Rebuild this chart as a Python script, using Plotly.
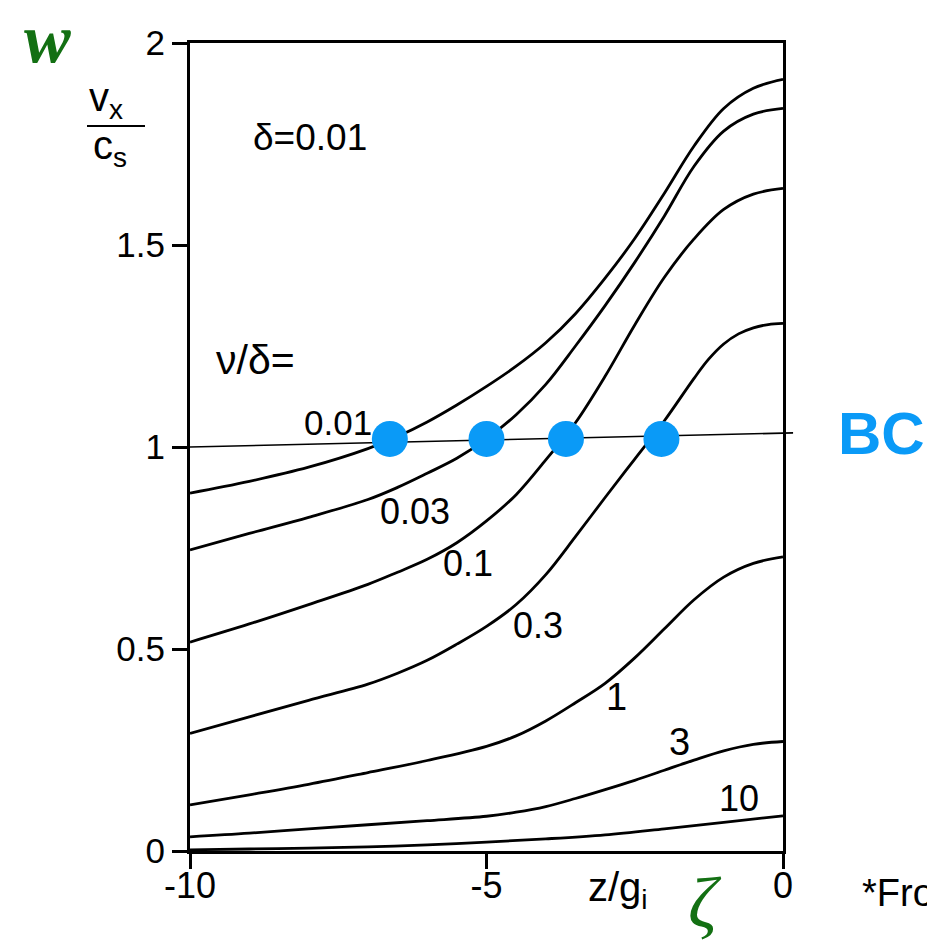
import plotly.graph_objects as go

# ---------------- data ----------------
z_grid_a = [-10, -9, -8, -7, -6.5, -6, -5.5, -5, -4.5, -4, -3.5, -3, -2.5, -2, -1.5, -1, -0.5, 0]

v_001 = [0.886, 0.915, 0.950, 0.996, 1.026, 1.062, 1.104, 1.150, 1.200, 1.258, 1.330, 1.418, 1.516, 1.628, 1.745, 1.838, 1.888, 1.910]
v_003 = [0.745, 0.786, 0.826, 0.870, 0.900, 0.935, 0.972, 1.020, 1.080, 1.155, 1.250, 1.350, 1.457, 1.572, 1.695, 1.782, 1.824, 1.838]
v_01 = [0.517, 0.562, 0.610, 0.660, 0.690, 0.722, 0.763, 0.817, 0.882, 0.968, 1.060, 1.175, 1.302, 1.420, 1.515, 1.588, 1.626, 1.640]

z_03 = [-10, -9, -8, -7, -6.5, -6, -5.5, -5, -4.5, -4, -3.5, -3, -2.5, -2, -1.5, -1.25, -1, -0.75, -0.5, -0.25, 0]
v_03 = [0.291, 0.332, 0.373, 0.413, 0.440, 0.472, 0.512, 0.556, 0.610, 0.684, 0.778, 0.875, 0.970, 1.065, 1.170, 1.218, 1.255, 1.280, 1.295, 1.303, 1.306]

z_1 = [-10, -9, -8, -7, -6, -5, -4.5, -4, -3.5, -3, -2.5, -2, -1.5, -1, -0.5, 0]
v_1 = [0.114, 0.139, 0.165, 0.194, 0.224, 0.259, 0.285, 0.322, 0.367, 0.415, 0.478, 0.550, 0.622, 0.678, 0.712, 0.728]

z_3 = [-10, -9, -8, -7, -6, -5, -4.5, -4, -3.5, -3, -2.5, -2, -1.5, -1, -0.5, 0]
v_3 = [0.035, 0.044, 0.055, 0.065, 0.075, 0.086, 0.096, 0.110, 0.130, 0.152, 0.175, 0.200, 0.225, 0.248, 0.264, 0.271]

z_10 = [-10, -9, -8, -7, -6, -5, -4, -3, -2, -1, 0]
v_10 = [0.003, 0.005, 0.007, 0.010, 0.015, 0.022, 0.030, 0.040, 0.055, 0.071, 0.087]

curves = [(z_grid_a, v_001), (z_grid_a, v_003), (z_grid_a, v_01), (z_03, v_03),
          (z_1, v_1), (z_3, v_3), (z_10, v_10)]

# BC line and its crossing points
bc_z = [-10, 0.17]
bc_v = [1.0, 1.035]
dot_z = [-6.63, -5.0, -3.66, -2.05]
dot_v = [1.02, 1.02, 1.02, 1.02]

x_ticks = [-10, -5, 0]
x_ticktext = ["-10", "-5", "0"]
y_ticks = [0, 0.5, 1, 1.5, 2]
y_ticktext = ["0", "0.5", "1", "1.5", "2"]

X_RANGE = [-10, 0]
Y_RANGE = [0, 2]

# ---------------- layout geometry ----------------
W, H = 927, 949
ML, MR, MT, MB = 190, 144, 43, 98
PW, PH = W - ML - MR, H - MT - MB

def P(px, py):
    return (px - ML) / PW, (H - MB - py) / PH

def data2paper(z, v):
    return ((z - X_RANGE[0]) / (X_RANGE[1] - X_RANGE[0]),
            (v - Y_RANGE[0]) / (Y_RANGE[1] - Y_RANGE[0]))

NARROW = "Liberation Sans Narrow, Arial Narrow, Liberation Sans, Arial, sans-serif"
SERIF = "Liberation Serif, Times New Roman, DejaVu Serif, serif"
SANS = "Liberation Sans, Arial, Helvetica, sans-serif"
GREEN = "#137013"
BLUE = "#0a9af7"

fig = go.Figure()
for z, v in curves:
    fig.add_trace(go.Scatter(x=z, y=v, mode="lines",
                             line=dict(color="black", width=2.8, shape="spline", smoothing=1.0),
                             hoverinfo="skip", showlegend=False))

fig.add_trace(go.Scatter(x=dot_z, y=dot_v, mode="markers",
                         marker=dict(size=36, color=BLUE, line=dict(width=0)),
                         cliponaxis=False, showlegend=False, hoverinfo="skip"))

bx0, by0 = data2paper(bc_z[0], bc_v[0])
bx1, by1 = data2paper(bc_z[1], bc_v[1])
fig.add_shape(type="line", xref="paper", yref="paper", x0=bx0, y0=by0, x1=bx1, y1=by1,
              line=dict(color="black", width=1.6), layer="below")

# fraction bar of the y label
fx0, fy = P(87, 126)
fx1, _ = P(145, 126)
fig.add_shape(type="line", xref="paper", yref="paper", x0=fx0, y0=fy, x1=fx1, y1=fy,
              line=dict(color="black", width=2))

def ann(text, px, py, size, family=NARROW, color="black", xanchor="center"):
    x, y = P(px, py)
    fig.add_annotation(text=text, x=x, y=y, xref="paper", yref="paper",
                       showarrow=False, xanchor=xanchor, yanchor="middle",
                       font=dict(size=size, family=family, color=color))

# curve labels
ann("0.01", 338, 422, 35)
ann("0.03", 415, 512, 36)
ann("0.1", 468, 563, 36)
ann("0.3", 538, 625, 36)
ann("1", 616, 697, 38)
ann("3", 679, 742, 38)
ann("10", 739, 798, 36)

ann("δ=0.01", 310, 137, 37)
ann("ν/δ=", 255, 360, 41)

ann("v<sub>x</sub>", 106, 100, 40)
ann("c<sub>s</sub>", 110, 148, 40)

ann("z/g<sub>i</sub>", 618, 890, 40)
ann("<i>ζ</i>", 705, 903, 72, family=SERIF, color=GREEN)
ann("<b><i>w</i></b>", 47, 38, 70, family=SERIF, color=GREEN)
ann("<b>BC</b>", 836, 433, 60, family=SANS, color=BLUE, xanchor="left")
ann("*From", 860, 893, 38, family=SANS, xanchor="left")

fig.update_xaxes(range=X_RANGE, tickvals=x_ticks, ticktext=x_ticktext,
                 ticks="outside", ticklen=15, tickwidth=2.5, tickcolor="black",
                 ticklabelstandoff=-14,
                 showline=True, linecolor="black", linewidth=3, mirror=True,
                 showgrid=False, zeroline=False,
                 tickfont=dict(size=36, family=NARROW, color="black"))
fig.update_yaxes(range=Y_RANGE, tickvals=y_ticks, ticktext=y_ticktext,
                 ticks="outside", ticklen=15, tickwidth=2.5, tickcolor="black",
                 showline=True, linecolor="black", linewidth=3, mirror=True,
                 showgrid=False, zeroline=False,
                 tickfont=dict(size=35, family=NARROW, color="black"))

fig.update_layout(width=W, height=H, template="none",
                  margin=dict(l=ML, r=MR, t=MT, b=MB, autoexpand=False),
                  paper_bgcolor="white", plot_bgcolor="rgba(0,0,0,0)",
                  showlegend=False)

fig.write_html("out.html")
